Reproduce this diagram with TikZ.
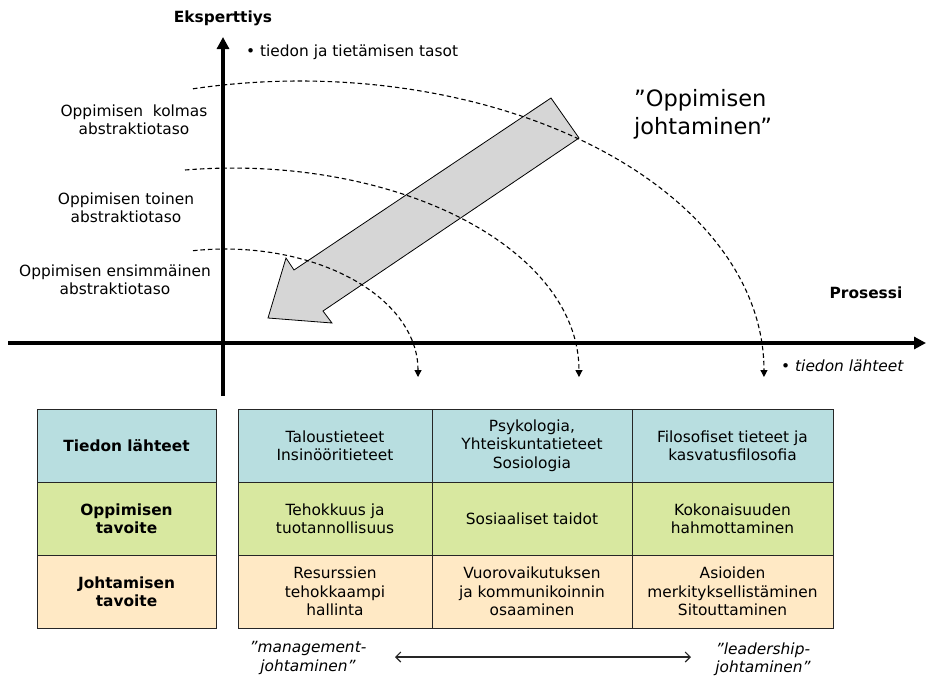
\documentclass[tikz,border=0pt]{standalone}
\usepackage{fontspec}
\setmainfont{DejaVu Sans}[ItalicFont={DejaVu Sans Oblique},BoldFont={DejaVu Sans Bold},BoldItalicFont={DejaVu Sans Bold Oblique}]
\usetikzlibrary{arrows.meta}
\definecolor{cblue}{RGB}{184,222,224}
\definecolor{cgreen}{RGB}{216,232,160}
\definecolor{corange}{RGB}{255,233,197}
\definecolor{cgray}{RGB}{214,214,214}
\begin{document}
\begin{tikzpicture}[x=1pt,y=-1pt,
  txt/.style={font=\fontsize{15.4}{18.3}\selectfont, align=center, inner sep=0pt},
  bigtxt/.style={font=\fontsize{22.5}{28}\selectfont, align=left, inner sep=0pt},
  cell/.style={txt, draw=black!85, line width=0.9pt, minimum height=73pt},
  axisline/.style={line width=4pt, -{Triangle[length=12pt,width=12pt]}},
  dasharc/.style={line width=1.1pt, dash pattern=on 4.5pt off 3pt, -{Triangle[length=7pt,width=7pt]}},
  bigarrow/.style={fill=cgray, draw=black, line width=0.8pt, line join=miter},
  spanarrow/.style={line width=1.1pt, black!85, {Straight Barb[length=5pt,width=10pt]}-{Straight Barb[length=5pt,width=10pt]}}
]
\useasboundingbox (0,0) rectangle (926,678);

% axes
\coordinate (vb) at (223,396);
\coordinate (vt) at (223,37);
\coordinate (hl) at (8,343);
\coordinate (hr) at (926,343);
\draw[axisline] (vb) -- (vt);
\draw[axisline] (hl) -- (hr);

% big block arrow
\coordinate (t1) at (551,98);
\coordinate (t2) at (579,138);
\coordinate (j2) at (323,311);
\coordinate (b2) at (332,323);
\coordinate (tip) at (268,318);
\coordinate (b1) at (286,258);
\coordinate (j1) at (294,270);
\draw[bigarrow] (t1) -- (t2) -- (j2) -- (b2) -- (tip) -- (b1) -- (j1) -- cycle;

% dashed arcs
\coordinate (a1) at (193,250.7);
\coordinate (a2) at (185,170);
\coordinate (a3) at (193,88.8);
\draw[dasharc] (a1) arc[start angle=99.55, end angle=0, x radius=193pt, y radius=121pt] -- ++(0,7);
\draw[dasharc] (a2) arc[start angle=97.97, end angle=0, x radius=346pt, y radius=202pt] -- ++(0,7);
\draw[dasharc] (a3) arc[start angle=103.33, end angle=0, x radius=464pt, y radius=289pt] -- ++(0,7);

% labels
\node[txt, font=\fontsize{15.4}{18.3}\selectfont\bfseries] (eks) at (223,18) {Eksperttiys};
\node[txt, anchor=west] (tt) at (246,52) {• tiedon ja tietämisen tasot};
\node[txt] (l3) at (134,120) {Oppimisen\ \ kolmas\\abstraktiotaso};
\node[txt] (l2) at (126,208) {Oppimisen toinen\\abstraktiotaso};
\node[txt] (l1) at (115,280) {Oppimisen ensimmäinen\\abstraktiotaso};
\node[bigtxt, anchor=west] (oj) at (634,114) {”Oppimisen\\johtaminen”};
\node[txt, font=\fontsize{15.4}{18.3}\selectfont\bfseries] (pro) at (866,293) {Prosessi};
\node[txt, anchor=west] (tl) at (781,366) {• \itshape tiedon lähteet};

% left table
\node[cell, fill=cblue, minimum width=179pt] (h1) at (126.5,445.5) {\bfseries Tiedon lähteet};
\node[cell, fill=cgreen, minimum width=179pt] (h2) at (126.5,518.5) {\bfseries Oppimisen\\\bfseries tavoite};
\node[cell, fill=corange, minimum width=179pt] (h3) at (126.5,591.5) {\bfseries Johtamisen\\\bfseries tavoite};

% right table
\node[cell, fill=cblue, minimum width=194pt] (c11) at (335,445.5) {Taloustieteet\\Insinööritieteet};
\node[cell, fill=cblue, minimum width=200pt] (c12) at (532,445.5) {Psykologia,\\Yhteiskuntatieteet\\Sosiologia};
\node[cell, fill=cblue, minimum width=201pt] (c13) at (732.5,445.5) {Filosofiset tieteet ja\\kasvatusfilosofia};
\node[cell, fill=cgreen, minimum width=194pt] (c21) at (335,518.5) {Tehokkuus ja\\tuotannollisuus};
\node[cell, fill=cgreen, minimum width=200pt] (c22) at (532,518.5) {Sosiaaliset taidot};
\node[cell, fill=cgreen, minimum width=201pt] (c23) at (732.5,518.5) {Kokonaisuuden\\hahmottaminen};
\node[cell, fill=corange, minimum width=194pt] (c31) at (335,591.5) {Resurssien\\tehokkaampi\\hallinta};
\node[cell, fill=corange, minimum width=200pt] (c32) at (532,591.5) {Vuorovaikutuksen\\ja kommunikoinnin\\osaaminen};
\node[cell, fill=corange, minimum width=201pt] (c33) at (732.5,591.5) {Asioiden\\merkityksellistäminen\\Sitouttaminen};

% bottom
\node[txt, font=\fontsize{15.4}{18.3}\selectfont\itshape] (mg) at (308,658) {”management-\\johtaminen”};
\node[txt, font=\fontsize{15.4}{18.3}\selectfont\itshape] (ld) at (763,659) {”leadership-\\johtaminen”};
\coordinate (sl) at (395,657);
\coordinate (sr) at (691,657);
\draw[spanarrow] (sl) -- (sr);
\end{tikzpicture}
\end{document}
